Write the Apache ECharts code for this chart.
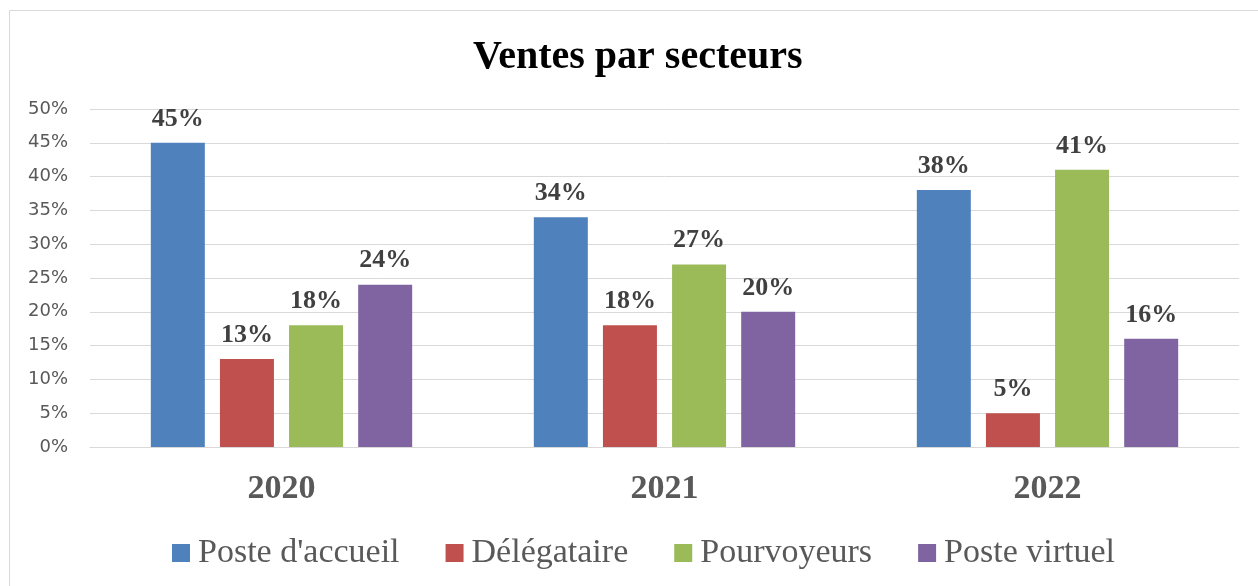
<!DOCTYPE html>
<html>
<head>
<meta charset="utf-8">
<script src="https://cdn.jsdelivr.net/npm/echarts@6/dist/echarts.min.js"></script>
<style>
  html, body { margin: 0; padding: 0; background: #fff; }
  #main { width: 1258px; height: 586px; }
</style>
</head>
<body>
<div id="main"></div>
<script>
// données
const annees = ['2020', '2021', '2022']
const secteurs = ['Poste d\'accueil', 'Délégataire', 'Pourvoyeurs', 'Poste virtuel']
const posteAccueil = [45, 34, 38]
const delegataire = [13, 18, 5]
const pourvoyeurs = [18, 27, 41]
const posteVirtuel = [24, 20, 16]
const couleurs = ['#4F81BD', '#C0504D', '#9BBB59', '#8064A2']

const serif = '"Liberation Serif", "Times New Roman", serif'
const valeurs = [posteAccueil, delegataire, pourvoyeurs, posteVirtuel]

const chart = echarts.init(document.getElementById('main'))

const series = secteurs.map((nom, i) => ({
  name: nom,
  type: 'bar',
  data: valeurs[i],
  barWidth: 54,
  barGap: '28%',
  itemStyle: { color: couleurs[i] },
  label: {
    show: true,
    position: 'top',
    distance: 11,
    formatter: '{c}%',
    fontFamily: serif,
    fontWeight: 'bold',
    fontSize: 26,
    color: '#404040'
  }
}))

chart.setOption({
  animation: false,
  title: {
    text: 'Ventes par secteurs',
    left: 468,
    top: 33,
    textStyle: { fontFamily: serif, fontWeight: 'bold', fontSize: 40, color: '#000' }
  },
  // cadre gris clair autour du graphique
  graphic: [{
    type: 'rect',
    shape: { x: 9.5, y: 10.5, width: 1260, height: 590 },
    style: { fill: 'none', stroke: '#D9D9D9', lineWidth: 1 },
    silent: true
  }],
  legend: {
    data: secteurs,
    bottom: 11,
    left: 167,
    itemWidth: 18,
    itemHeight: 18,
    itemGap: 46,
    icon: 'rect',
    textStyle: { fontFamily: serif, fontSize: 34, color: '#595959', padding: [0, 0, 0, 3] }
  },
  grid: { left: 90, right: 19, top: 109, bottom: 139 },
  xAxis: {
    type: 'category',
    data: annees,
    axisTick: { show: false },
    axisLine: { lineStyle: { color: '#D9D9D9', width: 1 } },
    axisLabel: {
      margin: 25,
      fontFamily: serif,
      fontWeight: 'bold',
      fontSize: 34,
      color: '#595959'
    }
  },
  yAxis: {
    type: 'value',
    min: 0,
    max: 50,
    interval: 5,
    axisLine: { show: false },
    axisTick: { show: false },
    splitLine: { lineStyle: { color: '#D9D9D9', width: 1 } },
    axisLabel: {
      formatter: '{value}%',
      margin: 22,
      fontFamily: '"DejaVu Sans", sans-serif',
      fontSize: 18,
      color: '#595959'
    }
  },
  series: series
})
</script>
</body>
</html>
